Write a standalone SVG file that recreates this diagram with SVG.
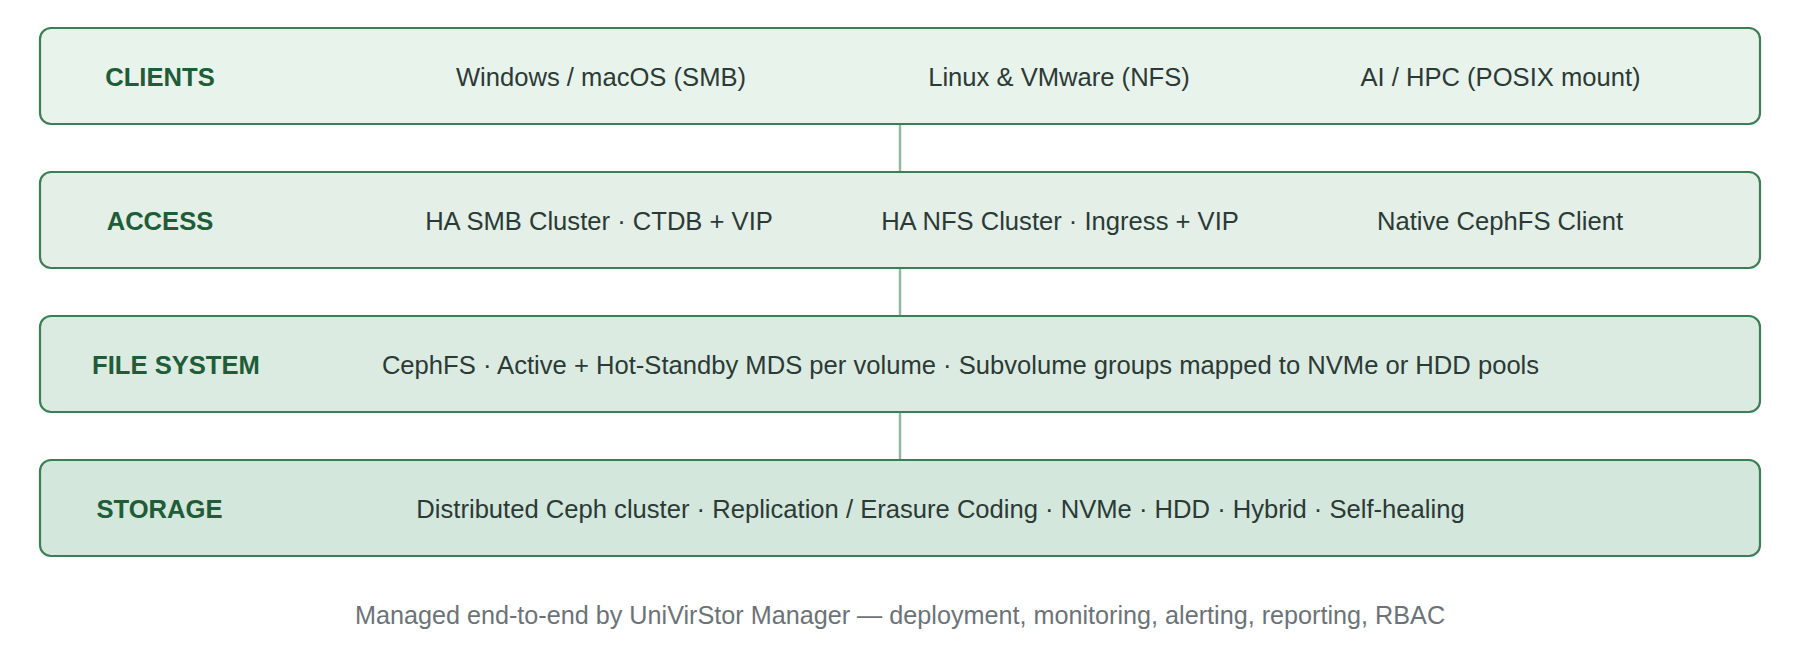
<svg xmlns="http://www.w3.org/2000/svg" width="1800" height="660" viewBox="0 0 1800 660">
<style>
.box{stroke:#3d7f55;stroke-width:2.2}
.lbl{font-family:"Liberation Sans",Arial,sans-serif;font-size:25.6px;font-weight:bold;fill:#1f5c38;text-anchor:middle}
.txt{font-family:"Liberation Sans",Arial,sans-serif;font-size:25.6px;fill:#2c3a36;text-anchor:middle}
.foot{font-family:"Liberation Sans",Arial,sans-serif;font-size:25.2px;fill:#6c7378;text-anchor:middle}
.conn{stroke:#8fbb9e;stroke-width:2.5;fill:none}
</style>
<rect width="1800" height="660" fill="#ffffff"/>
<g id="connectors">
<line class="conn" x1="900" y1="124" x2="900" y2="172"/>
<line class="conn" x1="900" y1="268" x2="900" y2="316"/>
<line class="conn" x1="900" y1="412" x2="900" y2="460"/>
</g>
<g id="clients">
<rect class="box" x="40" y="28" width="1720" height="96" rx="11" fill="#e8f3ec"/>
<text class="lbl" x="160" y="86">CLIENTS</text>
<text class="txt" x="601" y="86">Windows / macOS (SMB)</text>
<text class="txt" x="1059" y="86">Linux &amp; VMware (NFS)</text>
<text class="txt" x="1500.5" y="86">AI / HPC (POSIX mount)</text>
</g>
<g id="access">
<rect class="box" x="40" y="172" width="1720" height="96" rx="11" fill="#e3efe7"/>
<text class="lbl" x="160" y="230">ACCESS</text>
<text class="txt" x="599" y="230">HA SMB Cluster · CTDB + VIP</text>
<text class="txt" x="1060" y="230">HA NFS Cluster · Ingress + VIP</text>
<text class="txt" x="1500" y="230">Native CephFS Client</text>
</g>
<g id="filesystem">
<rect class="box" x="40" y="316" width="1720" height="96" rx="11" fill="#dbebe1"/>
<text class="lbl" x="176" y="374">FILE SYSTEM</text>
<text class="txt" x="960.5" y="374">CephFS · Active + Hot-Standby MDS per volume · Subvolume groups mapped to NVMe or HDD pools</text>
</g>
<g id="storage">
<rect class="box" x="40" y="460" width="1720" height="96" rx="11" fill="#d3e7dc"/>
<text class="lbl" x="159.5" y="518">STORAGE</text>
<text class="txt" x="940.5" y="518">Distributed Ceph cluster · Replication / Erasure Coding · NVMe · HDD · Hybrid · Self-healing</text>
</g>
<text id="footer" class="foot" x="900" y="624">Managed end-to-end by UniVirStor Manager — deployment, monitoring, alerting, reporting, RBAC</text>
</svg>
